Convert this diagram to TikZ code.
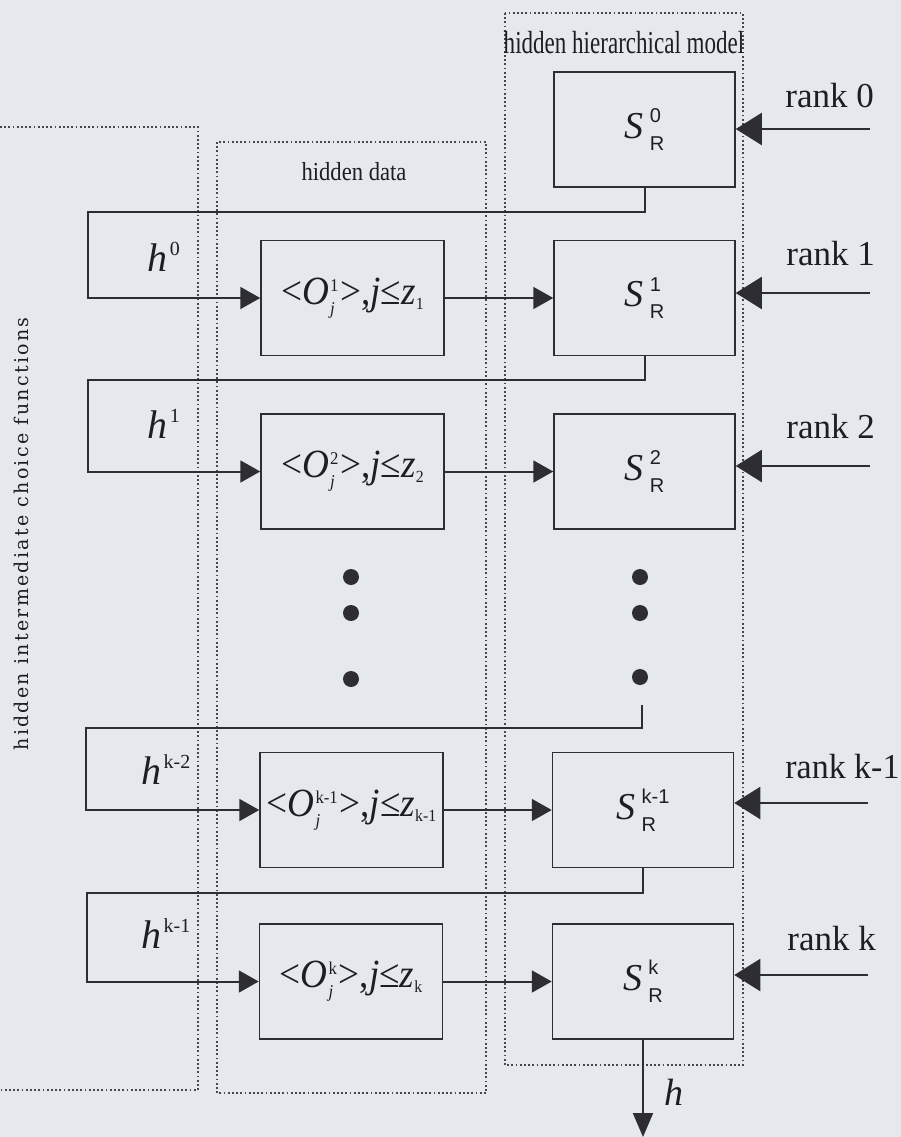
\documentclass[tikz,border=0pt]{standalone}
\usepackage{fontspec}
\setmainfont{Liberation Serif}
\setsansfont{Liberation Sans}
\newfontfamily\vfont[LetterSpace=12]{DejaVu Serif}
\usetikzlibrary{arrows.meta}
\definecolor{bgc}{RGB}{229,233,237}
\definecolor{linec}{RGB}{45,45,50}
\definecolor{dotc}{RGB}{70,70,78}
\definecolor{txtc}{RGB}{30,30,34}
\newcommand{\fs}[1]{\fontsize{#1}{#1}\selectfont}
\newcommand{\Olab}[2]{\scalebox{0.93}[1]{\fs{20}<\textit{O}\kern0.5pt\raisebox{-5pt}{\shortstack[l]{\fs{9}#1\\[2.5pt]\fs{9}\itshape j}}\kern1pt>,\textit{j}≤\textit{z}\raisebox{-2.5pt}{\fs{8.5}#2}}}
\newcommand{\Slab}[1]{\fs{19}\textit{S}\kern3pt\raisebox{-6pt}{\shortstack[l]{\sffamily\fs{10}#1\\[4pt]\sffamily\fs{10}R}}}
\newcommand{\hlab}[1]{\fs{20}\textit{h}\kern1pt\raisebox{8pt}{\fs{10}#1}}
\begin{document}
\begin{tikzpicture}[x=0.5pt,y=-0.5pt,
  dotbox/.style={draw=dotc, line width=0.75pt, dash pattern=on 0.9pt off 1.2pt},
  obox/.style={draw=linec, line width=0.75pt, minimum width=91.5pt, minimum height=57.5pt, inner sep=0pt, text=txtc},
  sbox/.style={draw=linec, line width=0.75pt, minimum width=90.5pt, minimum height=57.5pt, inner sep=0pt, text=txtc},
  flow/.style={draw=linec, line width=1pt, -{Triangle[length=10pt,width=11pt]}},
  rarrow/.style={draw=linec, line width=1pt, -{Triangle[length=13pt,width=16pt]}},
  oarrow/.style={draw=linec, line width=1pt, -{Triangle[length=12pt,width=10pt]}},
  dotn/.style={circle, fill=linec, minimum size=8pt, inner sep=0pt},
  rlab/.style={anchor=base west, inner sep=0pt, text=txtc, font=\fs{17.5}},
  lbl/.style={inner sep=0pt, text=txtc}]
\fill[bgc] (0,0) rectangle (901,1137);
\useasboundingbox (0,0) rectangle (901,1137);
% dotted containers
\draw[dotbox] (0,127) -- (198,127) -- (198,1090) -- (0,1090);
\draw[dotbox] (217,142) rectangle (486,1093);
\draw[dotbox] (505,13) rectangle (743,1065);
% container labels
\node[lbl] (hd) at (354,172) {\scalebox{0.87}[1]{\fs{13}hidden data}};
\node[lbl] (hhm) at (624,43) {\scalebox{0.72}[1]{\fs{16}hidden hierarchical model}};
\node[lbl, rotate=90] (hicf) at (21,534) {\vfont\fs{9.5}hidden intermediate choice functions};
% boxes
\node[obox] (O1) at (352.5,298) {\Olab{1}{1}};
\node[obox] (O2) at (352.5,471.5) {\Olab{2}{2}};
\node[obox] (Ok1) at (351.5,810) {\Olab{k-1}{k-1}};
\node[obox] (Ok) at (351,981.5) {\Olab{k}{k}};
\node[sbox] (S0) at (644.5,129.5) {\Slab{0}};
\node[sbox] (S1) at (644.5,298) {\Slab{1}};
\node[sbox] (S2) at (644.5,471.5) {\Slab{2}};
\node[sbox] (Sk1) at (643,810) {\Slab{k-1}};
\node[sbox] (Sk) at (643,981.5) {\Slab{k}};
% dots
\node[dotn] (a1) at (351,577) {};
\node[dotn] (a2) at (351,613) {};
\node[dotn] (a3) at (351,679) {};
\node[dotn] (b1) at (640,577) {};
\node[dotn] (b2) at (640,613) {};
\node[dotn] (b3) at (640,677) {};
% h labels
\node[lbl] (h0) at (164,257) {\hlab{0}};
\node[lbl] (h1) at (164,424) {\hlab{1}};
\node[lbl] (hk2) at (166,770) {\hlab{k-2}};
\node[lbl] (hk1) at (166,934) {\hlab{k-1}};
% loops
\coordinate (L0) at (88,212);
\coordinate (L1) at (88,380);
\coordinate (D2) at (642,705);
\coordinate (L2) at (86,728);
\coordinate (L3) at (87,893);
\draw[flow] (S0.south) |- (L0) |- (O1.west);
\draw[flow] (S1.south) |- (L1) |- (O2.west);
\draw[flow] (D2) |- (L2) |- (Ok1.west);
\draw[flow] (Sk1.south) |- (L3) |- (Ok.west);
% O to S
\draw[flow] (O1.east) -- (S1.west);
\draw[flow] (O2.east) -- (S2.west);
\draw[flow] (Ok1.east) -- (Sk1.west);
\draw[flow] (Ok.east) -- (Sk.west);
% ranks
\coordinate (r0) at (870,129);
\coordinate (r1) at (870,293);
\coordinate (r2) at (870,466);
\coordinate (r3) at (868,803);
\coordinate (r4) at (868,975);
\draw[rarrow] (r0) -- (S0.east |- r0);
\draw[rarrow] (r1) -- (S1.east |- r1);
\draw[rarrow] (r2) -- (S2.east |- r2);
\draw[rarrow] (r3) -- (Sk1.east |- r3);
\draw[rarrow] (r4) -- (Sk.east |- r4);
\node[rlab] (rk0) at (785,107) {rank 0};
\node[rlab] (rk1) at (786,265) {rank 1};
\node[rlab] (rk2) at (786,438) {rank 2};
\node[rlab] (rk3) at (785,778) {\scalebox{0.97}[1]{rank k-1}};
\node[rlab] (rk4) at (787,950) {rank k};
% output
\coordinate (out) at (643,1137);
\draw[oarrow] (Sk.south) -- (out);
\node[lbl] (hout) at (674,1092) {\fs{19}\textit{h}};
\end{tikzpicture}
\end{document}
